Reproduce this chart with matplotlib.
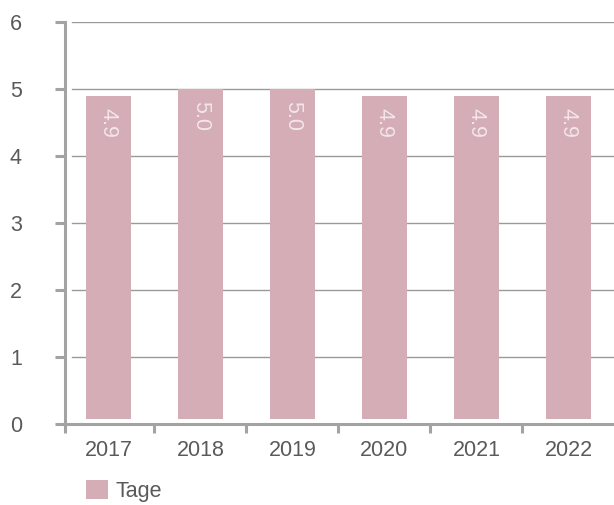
import numpy as np
import matplotlib.pyplot as plt

years = ["2017", "2018", "2019", "2020", "2021", "2022"]
tage = [4.9, 5.0, 5.0, 4.9, 4.9, 4.9]
value_labels = ["4.9", "5.0", "5.0", "4.9", "4.9", "4.9"]
y_ticks = [0, 1, 2, 3, 4, 5, 6]

bar_color = "#d4adb7"
axis_color = "#a3a3a3"
text_color = "#5a5a5a"
base = 0.075  # small gap between bars and the axis

plt.rcParams['font.family'] = ['Liberation Sans', 'DejaVu Sans']

fig = plt.figure(figsize=(6.14, 5.05), dpi=100)
ax = fig.add_axes([65 / 614, 81 / 505, 549 / 614, 401.7 / 505])

x = np.arange(len(years))
heights = np.array(tage) - base
bars = ax.bar(x, heights, bottom=base, width=0.49, color=bar_color, zorder=2, label="Tage")

for xi, v, lab in zip(x, tage, value_labels):
    ax.annotate(lab, (xi, v), xytext=(0, -8.5), textcoords="offset points",
                rotation=-90, ha="center", va="top", fontsize=15.5,
                color="#f3e6e9", zorder=3)

for yv in y_ticks[1:]:
    ax.axhline(yv, xmin=7 / 549, xmax=1, color="#9a9a9a", lw=1, zorder=1)

left, right = -0.4728, 5.4946
ax.set_xlim(left, right)
ax.set_ylim(0, 6)

ax.set_yticks(y_ticks)
ax.set_yticklabels([str(t) for t in y_ticks])
ax.tick_params(axis="y", length=7, width=2.2, color=axis_color, pad=24,
               labelsize=15.5, labelcolor=text_color)

ax.set_xticks([left] + [i + 0.5 for i in range(len(years) - 1)])
ax.set_xticklabels([])
ax.set_xticks(x, minor=True)
ax.set_xticklabels(years, minor=True)
ax.tick_params(axis="x", which="major", length=6.5, width=2.2, color=axis_color)
ax.tick_params(axis="x", which="minor", length=0, pad=11.5,
               labelsize=15.5, labelcolor=text_color)

for s in ["top", "right"]:
    ax.spines[s].set_visible(False)
for s in ["left", "bottom"]:
    ax.spines[s].set_color(axis_color)
    ax.spines[s].set_linewidth(2.2)

fig.legend(handles=[bars], labels=["Tage"], loc="center left",
           bbox_to_anchor=(67 / 614, 1 - 491 / 505), frameon=False,
           fontsize=15.5, labelcolor=text_color, handlelength=1.0,
           handleheight=1.0, handletextpad=0.35)

plt.savefig("out.png", dpi=100)
